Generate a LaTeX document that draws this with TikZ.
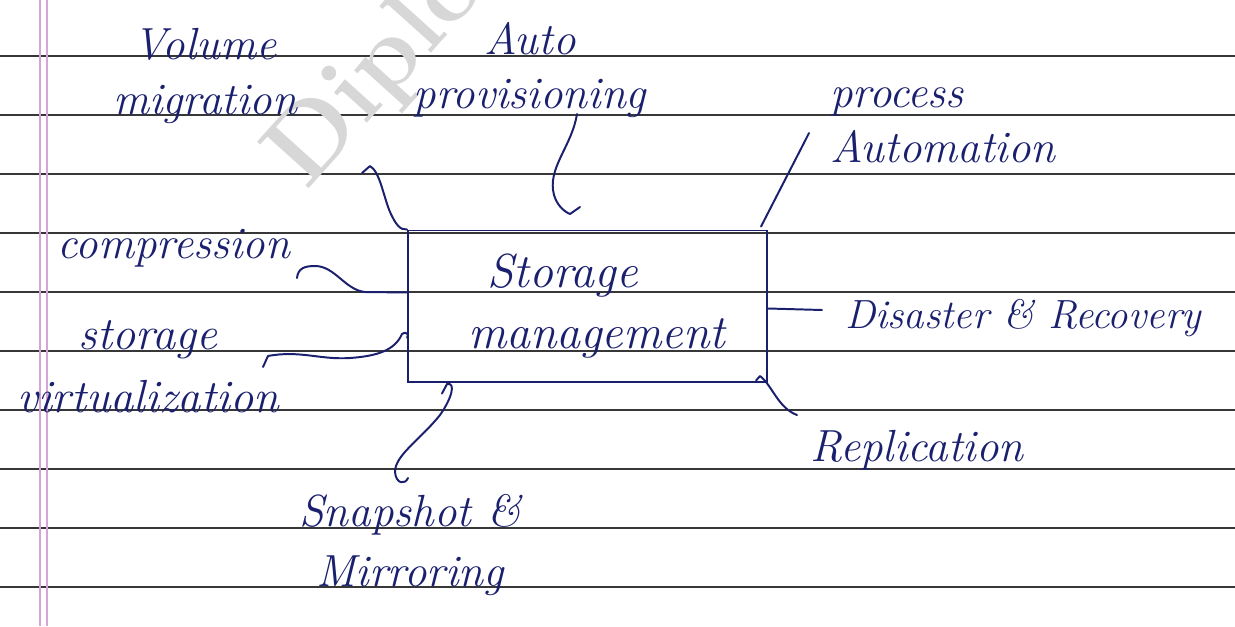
\documentclass[tikz,border=0pt]{standalone}
\usetikzlibrary{calc}
\definecolor{ink}{RGB}{26,32,110}
\definecolor{ruled}{RGB}{55,55,55}
\definecolor{marginline}{RGB}{214,165,214}
\definecolor{wmark}{RGB}{215,215,215}

\begin{document}
\begin{tikzpicture}[x=0.025cm,y=-0.025cm,
  hand/.style={text=ink, font=\itshape\fontsize{32}{39}\selectfont, inner sep=0pt, align=center},
  wire/.style={draw=ink, line width=1.4pt, line cap=round, line join=round},
  ruleline/.style={draw=ruled, line width=0.9pt},
  margin/.style={draw=marginline, line width=0.8pt},
  core/.style={draw=ink, line width=1.4pt, minimum width=8.975cm, minimum height=3.775cm,
    text=ink, font=\itshape\fontsize{34}{48}\selectfont, align=center}]

\useasboundingbox (0,0) rectangle (1235,626);
\clip (0,0) rectangle (1235,626);
\fill[white] (0,0) rectangle (1235,626);

% ruled notebook paper
\foreach \y in {56,115,174,233,292,351,410,469,528,587}
  \draw[ruleline] (0,\y) -- (1235,\y);
\draw[margin] (40,0) -- (40,626);
\draw[margin] (47,0) -- (47,626);

% faint watermark
\node[text=wmark, font=\bfseries\fontsize{72}{72}\selectfont, rotate=48, anchor=base west, inner sep=0pt]
  (wm) at (306,192) {Diplo};

% central box
\node[core] (box) at (587.5,306) {Storage\hspace*{1.25cm}\\[-4pt]\hspace*{0.45cm}management};

% labels
\node[hand] (vm) at (205,76) {Volume\\migration};
\node[hand] (ap) at (530,70) {Auto\\provisioning};
\node[hand, align=left, anchor=west] (pa) at (830,125) {process\\Automation};
\node[hand] (comp) at (174,248) {compression};
\node[hand, font=\itshape\fontsize{33}{45}\selectfont] (sv) at (148,367) {storage\\virtualization};
\node[hand, font=\itshape\fontsize{29}{35}\selectfont, anchor=west] (dr) at (845,318) {Disaster \& Recovery};
\node[hand, anchor=west] (rep) at (810,450) {Replication};
\node[hand, font=\itshape\fontsize{32}{43}\selectfont] (sm) at (410,545) {Snapshot \&\\Mirroring};

% connector ends
\coordinate (vmtail) at (362,173);
\coordinate (aptail) at (577,114);
\coordinate (patail) at (807,137);
\coordinate (comptail) at (297,278);
\coordinate (svtail) at (263,367);
\coordinate (drtail) at (822,310);
\coordinate (reptail) at (797,415);
\coordinate (smtail) at (408,478);

% connectors
\draw[wire] (vmtail) -- (370,166) .. controls (380,172) and (383,195) .. (390,212)
  .. controls (396,225) and (400,230) .. (box.north west);
\draw[wire] (aptail) .. controls (572,145) and (550,165) .. (553,190)
  .. controls (555,205) and (565,212) .. (570,214) -- (580,207);
\draw[wire] ($(box.north east)+(-7,-3)$) -- (patail) -- ++(2,-4);
\draw[wire] (comptail) .. controls (298,268) and (305,266) .. (315,266)
  .. controls (335,266) and (345,290) .. (365,292) -- ($(box.north west)+(0,63)$);
\draw[wire] (svtail) -- (268,356) .. controls (300,350) and (320,360) .. (350,358)
  .. controls (378,356) and (395,350) .. (402,334) .. controls (406,330) and (410,336) .. ($(box.north west)+(0,108)$);
\draw[wire] ($(box.north east)+(0,79)$) -- (drtail);
\draw[wire] ($(box.south east)+(-12,-2)$) -- (760,376) .. controls (772,385) and (778,408) .. (reptail);
\draw[wire] ($(box.south west)+(35,11)$) -- (447,384) .. controls (456,382) and (452,398) .. (440,415)
  .. controls (420,440) and (395,455) .. (395,472) .. controls (396,484) and (405,485) .. (smtail);
\end{tikzpicture}
\end{document}
